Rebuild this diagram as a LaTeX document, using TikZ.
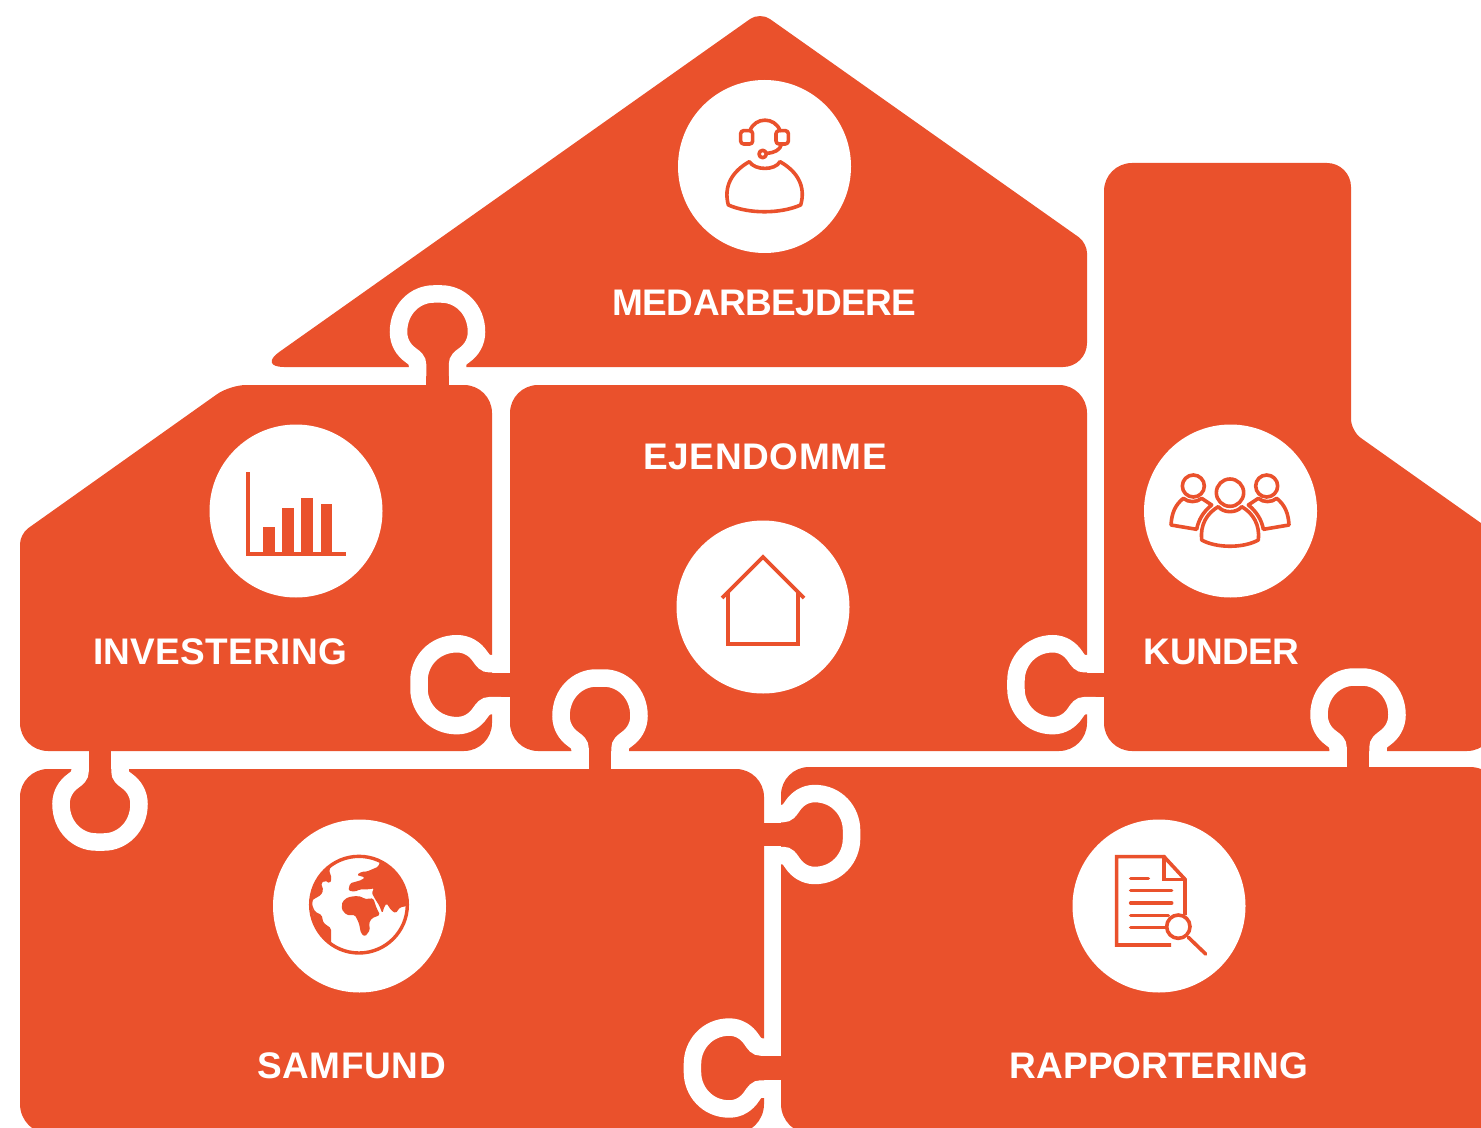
\documentclass[tikz,border=0pt]{standalone}
\usepackage{fontspec}
\setmainfont{Liberation Sans}
\usetikzlibrary{positioning}
\definecolor{brick}{HTML}{EA512C}
\tikzset{
    jigtab/.pic={
        \fill[brick] (-11.3,12) rectangle (11.3,-25);
        \draw[white, line width=8.75pt] (-20,0) -- (-20,-11)
            .. controls (-20,-16) and (-23,-18) .. (-27,-21)
            .. controls (-34,-26) and (-39,-34) .. (-39,-44)
            .. controls (-39,-67) and (-22,-82) .. (-4,-82) -- (4,-82)
            .. controls (22,-82) and (39,-67) .. (39,-44)
            .. controls (39,-34) and (34,-26) .. (27,-21)
            .. controls (23,-18) and (20,-16) .. (20,-11) -- (20,0);
    }
}
\begin{document}
\begin{tikzpicture}[x=0.5pt, y=-0.5pt,
        piece/.style={fill=brick, rounded corners=14pt},
        disc/.style={circle, fill=white, minimum size=86.5pt, inner sep=0pt},
        title/.style={text=white, inner sep=0pt, text height=13.5pt, text depth=0pt, font=\bfseries\fontsize{18.5}{22}\selectfont},
        icon/.style={draw=brick, line width=1.8pt, line cap=round, line join=round},
        bar/.style={fill=brick}
    ]
        \clip (0,0) rectangle (1481,1128);
        % Puzzle pieces
        \fill[piece] (600,367) [rounded corners=13pt] -- (258,367) [rounded corners=6pt] -- (760,12) [rounded corners=5pt] -- (1087,243) [rounded corners=12pt] -- (1087,367) -- cycle;
        \fill[piece] (300,385) [rounded corners=8pt] -- (230,385) [rounded corners=5pt] -- (20,534) [rounded corners=14pt] -- (20,751) -- (492,751) -- (492,385) -- cycle;
        \fill[piece] (800,385) -- (510,385) -- (510,751) -- (1087,751) -- (1087,385) -- cycle;
        \fill[piece] (1104,400) -- (1104,163) [rounded corners=12pt] -- (1351,163) [rounded corners=6pt] -- (1351,431) -- (1495,533) [rounded corners=14pt] -- (1495,751) -- (1104,751) -- cycle;
        \fill[piece] (400,769) -- (20,769) [rounded corners=15pt] -- (20,1134) -- (764,1134) [rounded corners=14pt] -- (764,769) -- cycle;
        \fill[piece] (1100,767) -- (781,767) [rounded corners=15pt] -- (781,1134) -- (1500,1134) -- (1500,767) -- cycle;
        % Tabs
        \pic (tab_medarbejdere) at (437.5,376) {jigtab};
        \pic[rotate=90, xscale=1.05] (tab_investering) at (501,684.7) {jigtab};
        \pic (tab_ejendomme) at (600,760) {jigtab};
        \pic[rotate=90, xscale=1.05, yscale=0.97] (tab_kunder) at (1095.5,684.7) {jigtab};
        \pic (tab_rapport_top) at (1358,759) {jigtab};
        \pic[rotate=180] (tab_samfund) at (100,760) {jigtab};
        \pic[rotate=-90, xscale=1.05, yscale=0.97] (tab_rapport) at (772,834.5) {jigtab};
        \pic[rotate=90, xscale=1.05, yscale=0.97] (tab_samfund_bund) at (772,1068) {jigtab};
        % Discs
        \node[disc] (medarbejdere) at (764.5,166.5) {};
        \node[disc] (ejendomme) at (763,607) {};
        \node[disc] (investering) at (296,511) {};
        \node[disc] (kunder) at (1230.5,511) {};
        \node[disc] (samfund) at (359.5,906) {};
        \node[disc] (rapportering) at (1159,906) {};
        % Labels
        \node[title, below=17.5pt of medarbejdere] (medarbejdere_label) {\addfontfeature{LetterSpace=-1.7}MEDARBEJDERE};
        \node[title, above=25pt of ejendomme, xshift=1pt] (ejendomme_label) {\addfontfeature{LetterSpace=1.7}EJENDOMME};
        \node[title, below=19.5pt of investering, xshift=-38pt] (investering_label) {\addfontfeature{LetterSpace=0.8}INVESTERING};
        \node[title, below=19.5pt of kunder, xshift=-4.5pt] (kunder_label) {\addfontfeature{LetterSpace=-1.6}KUNDER};
        \node[title, below=29pt of samfund, xshift=-4pt] (samfund_label) {\addfontfeature{LetterSpace=1.8}SAMFUND};
        \node[title, below=29pt of rapportering] (rapportering_label) {RAPPORTERING};
        % Headset icon
        \begin{scope}[shift={(700,100)}, scale=1/3]
            \draw[icon] (85,315) .. controls (70,260) and (95,215) .. (148,185)
                .. controls (165,212) and (225,212) .. (240,185)
                .. controls (293,215) and (318,260) .. (302,315)
                .. controls (240,342) and (147,342) .. (85,315) -- cycle;
            \draw[icon] (150,92) .. controls (165,50) and (225,50) .. (240,92);
            \draw[icon, rounded corners=1.5pt] (122,92) rectangle (158,132);
            \draw[icon, rounded corners=1.5pt] (228,92) rectangle (265,132);
            \draw[icon] (245,132) .. controls (240,150) and (225,158) .. (200,160);
            \draw[icon] (188,162) circle (11);
        \end{scope}
        % House icon
        \draw[icon, line cap=butt, line join=miter] (722,598) -- (763,557) -- (804,598);
        \draw[icon, line cap=butt, line join=miter] (728,592) -- (728,644) -- (798,644) -- (798,592);
        % Chart icon
        \draw[icon, line cap=butt, line join=miter] (248,472) -- (248,554) -- (346,554);
        \fill[bar] (263,527) rectangle (275,553);
        \fill[bar] (282,508) rectangle (294,553);
        \fill[bar] (301,498) rectangle (313,553);
        \fill[bar] (321,504) rectangle (332,553);
        % People icon
        \begin{scope}[shift={(1150,450)}, scale=1/3]
            \draw[icon] (130,108) circle (33);
            \draw[icon] (350,108) circle (33);
            \draw[icon] (240,128) circle (41);
            \draw[icon] (140,238) -- (63,225) .. controls (65,190) and (75,165) .. (100,145)
                .. controls (115,158) and (140,158) .. (155,145) -- (185,165)
                .. controls (160,185) and (145,210) .. (140,238);
            \draw[icon] (340,238) -- (417,225) .. controls (415,190) and (405,165) .. (380,145)
                .. controls (365,158) and (340,158) .. (325,145) -- (295,165)
                .. controls (320,185) and (335,210) .. (340,238);
            \draw[icon] (155,270) .. controls (150,225) and (170,190) .. (205,170)
                .. controls (220,190) and (260,190) .. (275,170)
                .. controls (310,190) and (330,225) .. (325,270)
                .. controls (280,295) and (200,295) .. (155,270) -- cycle;
        \end{scope}
        % Globe icon
        \begin{scope}[shift={(305,850)}, scale=1/3, rounded corners=0.8pt]
            \fill[brick] (17,164) -- (25,118) -- (45,78) -- (82,45) -- (72,60) -- (80,85) -- (75,100) -- (60,92) -- (48,100) -- (55,120) -- (48,135) -- (22,150) -- cycle;
            \fill[brick] (19,160) -- (30,185) -- (50,195) -- (55,218) -- (78,235) -- (78,282) -- (50,258) -- (30,225) -- cycle;
            \fill[brick] (112,155) -- (128,142) -- (150,138) -- (170,140) -- (178,147) -- (205,145) -- (215,175) -- (225,195) -- (200,205) -- (192,220) -- (195,240) -- (180,260) -- (168,250) -- (162,220) -- (150,195) -- (125,195) -- (110,178) -- cycle;
            \fill[brick] (155,75) -- (170,65) -- (185,65) -- (220,50) -- (225,34) -- (265,62) -- (295,110) -- (307,168) -- (285,172) -- (272,190) -- (258,180) -- (245,160) -- (238,170) -- (232,190) -- (222,165) -- (212,150) -- (200,128) -- (208,115) -- (190,118) -- (165,118) -- (150,125) -- (130,122) -- (135,100) -- (170,90) -- (180,82) -- cycle;
            \draw[icon, line width=1.7pt] (162,164) circle (145);
        \end{scope}
        % Report icon
        \begin{scope}[shift={(1090,840)}, scale=1/3]
            \draw[icon, line cap=butt, line join=miter] (243,315) -- (80,315) -- (80,50) -- (222,50) -- (285,118) -- (285,225);
            \draw[icon, line join=miter] (222,50) -- (222,118) -- (285,118);
            \draw[icon] (122,116) -- (175,116);
            \draw[icon] (122,152) -- (245,152);
            \draw[icon] (122,189) -- (245,189);
            \draw[icon] (122,226) -- (235,226);
            \draw[icon] (122,262) -- (228,262);
            \draw[icon, fill=white] (265,260) circle (35);
            \draw[icon] (295,292) -- (347,342);
        \end{scope}
    \end{tikzpicture}
\end{document}
